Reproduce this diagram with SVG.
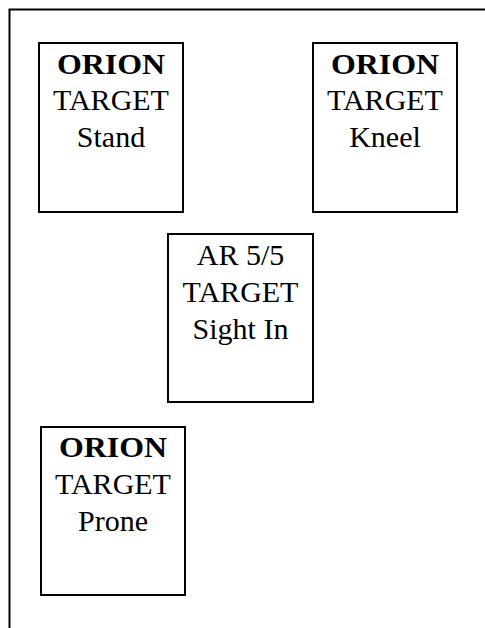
<svg xmlns="http://www.w3.org/2000/svg" width="485" height="628" viewBox="0 0 485 628">
<style>
.box{fill:#fff;stroke:#000;stroke-width:2}
.frame{fill:none;stroke:#000;stroke-width:2}
text{font-family:"Liberation Serif","Times New Roman",serif;font-size:30px;text-anchor:middle;fill:#000}
.b{font-weight:bold}
</style>
<rect width="485" height="628" fill="#fff"/>
<path class="frame" d="M9.5,628 V9.5 H485"/>
<g id="stand">
<rect class="box" x="39" y="43" width="144" height="169"/>
<text x="111" y="74" class="b" textLength="108" lengthAdjust="spacingAndGlyphs">ORION</text>
<text x="111" y="110">TARGET</text>
<text x="111" y="147">Stand</text>
</g>
<g id="kneel">
<rect class="box" x="313" y="43" width="144" height="169"/>
<text x="385" y="74" class="b" textLength="108" lengthAdjust="spacingAndGlyphs">ORION</text>
<text x="385" y="110">TARGET</text>
<text x="385" y="147">Kneel</text>
</g>
<g id="sightin">
<rect class="box" x="168" y="234" width="145" height="168"/>
<text x="240.5" y="265">AR 5/5</text>
<text x="240.5" y="302">TARGET</text>
<text x="240.5" y="339">Sight In</text>
</g>
<g id="prone">
<rect class="box" x="41" y="427" width="144" height="168"/>
<text x="113" y="457" class="b" textLength="108" lengthAdjust="spacingAndGlyphs">ORION</text>
<text x="113" y="494">TARGET</text>
<text x="113" y="531">Prone</text>
</g>
<g id="connectors"/>
</svg>
